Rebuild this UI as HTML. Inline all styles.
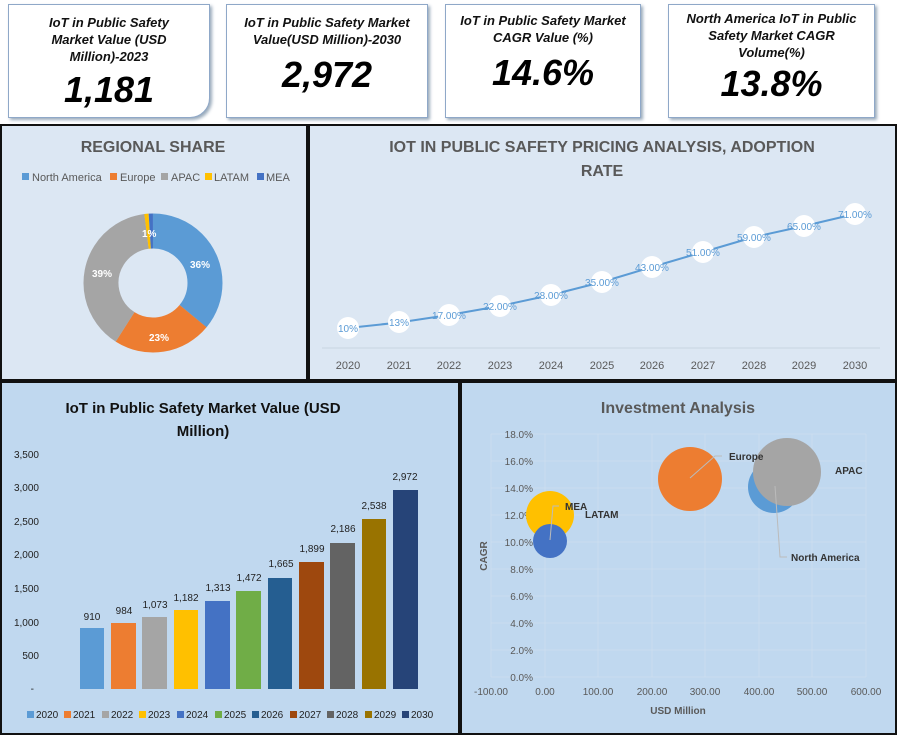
<!DOCTYPE html><html><head><meta charset="utf-8"><style>
body{margin:0;width:897px;height:735px;background:#fff;position:relative;overflow:hidden;font-family:"Liberation Sans",sans-serif}
.card{position:absolute;background:#fff;border:1px solid #8fa8c8;box-shadow:2px 2px 3px #9ab;text-align:center;font-style:italic;font-weight:bold;font-family:"Liberation Sans Narrow","Liberation Sans",sans-serif}
.card .t{font-size:13px;line-height:17px;color:#111}
.card .v{font-size:36px;color:#000;margin-top:4px}
.p{position:absolute;background:#dce7f3;border:2px solid #111;box-sizing:border-box}
</style></head><body>
<div class="card" style="left:8px;top:4px;width:200px;height:112px;border-radius:0 0 20px 0"><div class="t" style="margin-top:9px">IoT in Public Safety<br>Market Value (USD<br>Million)-2023</div><div class="v">1,181</div></div>
<div class="card" style="left:226px;top:4px;width:200px;height:112px"><div class="t" style="margin-top:9px">IoT in Public Safety Market<br>Value(USD Million)-2030</div><div class="v" style="margin-top:6px">2,972</div></div>
<div class="card" style="left:445px;top:4px;width:194px;height:112px"><div class="t" style="margin-top:7px">IoT in Public Safety Market<br>CAGR  Value (%)</div><div class="v" style="margin-top:6px">14.6%</div></div>
<div class="card" style="left:668px;top:4px;width:205px;height:112px"><div class="t" style="margin-top:5px">North America IoT in Public<br>Safety Market CAGR<br>Volume(%)</div><div class="v" style="margin-top:2px">13.8%</div></div>

<div class="p" style="left:0;top:124px;width:308px;height:257px"></div>
<div class="p" style="left:308px;top:124px;width:589px;height:257px"></div>
<div class="p" style="left:0;top:381px;width:460px;height:354px;background:#c0d8ef"></div>
<div class="p" style="left:460px;top:381px;width:437px;height:354px;background:#c0d8ef"></div>

<svg width="897" height="735" style="position:absolute;left:0;top:0" font-family="Liberation Sans, sans-serif">
<text x="153" y="152" text-anchor="middle" font-size="16" font-weight="bold" fill="#595959">REGIONAL SHARE</text>
<g font-size="11" fill="#595959">
<rect x="22" y="173" width="7" height="7" fill="#5b9bd5"/><text x="32" y="181">North America</text>
<rect x="110" y="173" width="7" height="7" fill="#ed7d31"/><text x="120" y="181">Europe</text>
<rect x="161" y="173" width="7" height="7" fill="#a5a5a5"/><text x="171" y="181">APAC</text>
<rect x="205" y="173" width="7" height="7" fill="#ffc000"/><text x="214" y="181">LATAM</text>
<rect x="257" y="173" width="7" height="7" fill="#4472c4"/><text x="266" y="181">MEA</text></g>
<g transform="translate(153,283)" stroke-width="35" fill="none">
<circle r="52" stroke="#5b9bd5" stroke-dasharray="117.6 400" transform="rotate(-90)"/>
<circle r="52" stroke="#ed7d31" stroke-dasharray="75.1 400" transform="rotate(39.6)"/>
<circle r="52" stroke="#a5a5a5" stroke-dasharray="127.4 400" transform="rotate(122.4)"/>
<circle r="52" stroke="#ffc000" stroke-dasharray="3.3 400" transform="rotate(262.8)"/>
<circle r="52" stroke="#4472c4" stroke-dasharray="3.3 400" transform="rotate(266.4)"/>
</g>
<g font-size="10" fill="#fff" font-weight="bold"><text x="190" y="268">36%</text><text x="149" y="341">23%</text><text x="92" y="277">39%</text><text x="142" y="237">1%</text></g>

<text x="602" y="152" text-anchor="middle" font-size="16" font-weight="bold" fill="#595959">IOT IN PUBLIC SAFETY PRICING ANALYSIS, ADOPTION</text>
<text x="602" y="176" text-anchor="middle" font-size="16" font-weight="bold" fill="#595959">RATE</text>
<line x1="322" y1="348" x2="880" y2="348" stroke="#c8d4e0"/>
<polyline fill="none" stroke="#5b9bd5" stroke-width="2" points="348,328 399,322.5 449,315 500,306 551,295 602,282 652,267 703,252 754,237 804,226 855,214"/>
<g font-size="10" fill="#5b9bd5" text-anchor="middle">
<g fill="#fff"><circle cx="348" cy="328" r="11"/><circle cx="399" cy="322" r="11"/><circle cx="449" cy="315" r="11"/><circle cx="500" cy="306" r="11"/><circle cx="551" cy="295" r="11"/><circle cx="602" cy="282" r="11"/><circle cx="652" cy="267" r="11"/><circle cx="703" cy="252" r="11"/><circle cx="754" cy="237" r="11"/><circle cx="804" cy="226" r="11"/><circle cx="855" cy="214" r="11"/></g>
<text x="348" y="332">10%</text><text x="399" y="326">13%</text><text x="449" y="319">17.00%</text><text x="500" y="310">22.00%</text><text x="551" y="299">28.00%</text><text x="602" y="286">35.00%</text><text x="652" y="271">43.00%</text><text x="703" y="256">51.00%</text><text x="754" y="241">59.00%</text><text x="804" y="230">65.00%</text><text x="855" y="218">71.00%</text></g>
<g font-size="11" fill="#595959" text-anchor="middle"><text x="348" y="369">2020</text><text x="399" y="369">2021</text><text x="449" y="369">2022</text><text x="500" y="369">2023</text><text x="551" y="369">2024</text><text x="602" y="369">2025</text><text x="652" y="369">2026</text><text x="703" y="369">2027</text><text x="754" y="369">2028</text><text x="804" y="369">2029</text><text x="855" y="369">2030</text></g>

<text x="203" y="413" text-anchor="middle" font-size="15" font-weight="bold" fill="#111">IoT in Public Safety Market Value (USD</text>
<text x="203" y="436" text-anchor="middle" font-size="15" font-weight="bold" fill="#111">Million)</text>
<g font-size="10" fill="#222" text-anchor="end"><text x="39" y="458">3,500</text><text x="39" y="491">3,000</text><text x="39" y="525">2,500</text><text x="39" y="558">2,000</text><text x="39" y="592">1,500</text><text x="39" y="626">1,000</text><text x="39" y="659">500</text><text x="34" y="692">-</text></g>
<g>
<rect x="80" y="628" width="24" height="61" fill="#5b9bd5"/><rect x="111" y="623" width="25" height="66" fill="#ed7d31"/><rect x="142" y="617" width="25" height="72" fill="#a5a5a5"/><rect x="174" y="610" width="24" height="79" fill="#ffc000"/><rect x="205" y="601" width="25" height="88" fill="#4472c4"/><rect x="236" y="591" width="25" height="98" fill="#70ad47"/><rect x="268" y="578" width="24" height="111" fill="#255e91"/><rect x="299" y="562" width="25" height="127" fill="#9e480e"/><rect x="330" y="543" width="25" height="146" fill="#636363"/><rect x="362" y="519" width="24" height="170" fill="#997300"/><rect x="393" y="490" width="25" height="199" fill="#264478"/></g>
<g font-size="10" fill="#222" text-anchor="middle"><text x="92" y="620">910</text><text x="124" y="614">984</text><text x="155" y="608">1,073</text><text x="186" y="601">1,182</text><text x="218" y="591">1,313</text><text x="249" y="581">1,472</text><text x="281" y="567">1,665</text><text x="312" y="552">1,899</text><text x="343" y="532">2,186</text><text x="374" y="509">2,538</text><text x="405" y="480">2,972</text></g>
<g font-size="10" fill="#222">
<rect x="27" y="711" width="7" height="7" fill="#5b9bd5"/><text x="36" y="718">2020</text>
<rect x="64" y="711" width="7" height="7" fill="#ed7d31"/><text x="73" y="718">2021</text>
<rect x="102" y="711" width="7" height="7" fill="#a5a5a5"/><text x="111" y="718">2022</text>
<rect x="139" y="711" width="7" height="7" fill="#ffc000"/><text x="148" y="718">2023</text>
<rect x="177" y="711" width="7" height="7" fill="#4472c4"/><text x="186" y="718">2024</text>
<rect x="215" y="711" width="7" height="7" fill="#70ad47"/><text x="224" y="718">2025</text>
<rect x="252" y="711" width="7" height="7" fill="#255e91"/><text x="261" y="718">2026</text>
<rect x="290" y="711" width="7" height="7" fill="#9e480e"/><text x="299" y="718">2027</text>
<rect x="327" y="711" width="7" height="7" fill="#636363"/><text x="336" y="718">2028</text>
<rect x="365" y="711" width="7" height="7" fill="#997300"/><text x="374" y="718">2029</text>
<rect x="402" y="711" width="7" height="7" fill="#264478"/><text x="411" y="718">2030</text></g>

<text x="678" y="413" text-anchor="middle" font-size="16" font-weight="bold" fill="#595959">Investment Analysis</text>
<g stroke="#cfe0f0" stroke-width="1" opacity="0.7">
<line x1="491" y1="434" x2="866" y2="434"/><line x1="491" y1="461" x2="866" y2="461"/><line x1="491" y1="488" x2="866" y2="488"/><line x1="491" y1="515" x2="866" y2="515"/><line x1="491" y1="542" x2="866" y2="542"/><line x1="491" y1="569" x2="866" y2="569"/><line x1="491" y1="596" x2="866" y2="596"/><line x1="491" y1="623" x2="866" y2="623"/><line x1="491" y1="650" x2="866" y2="650"/><line x1="491" y1="677" x2="866" y2="677"/>
<line x1="491" y1="434" x2="491" y2="677"/><line x1="545" y1="434" x2="545" y2="677"/><line x1="598" y1="434" x2="598" y2="677"/><line x1="652" y1="434" x2="652" y2="677"/><line x1="705" y1="434" x2="705" y2="677"/><line x1="759" y1="434" x2="759" y2="677"/><line x1="812" y1="434" x2="812" y2="677"/><line x1="866" y1="434" x2="866" y2="677"/></g>
<g font-size="10" fill="#595959" text-anchor="end"><text x="533" y="438">18.0%</text><text x="533" y="465">16.0%</text><text x="533" y="492">14.0%</text><text x="533" y="519">12.0%</text><text x="533" y="546">10.0%</text><text x="533" y="573">8.0%</text><text x="533" y="600">6.0%</text><text x="533" y="627">4.0%</text><text x="533" y="654">2.0%</text><text x="533" y="681">0.0%</text></g>
<g font-size="10" fill="#595959" text-anchor="middle"><text x="491" y="695">-100.00</text><text x="545" y="695">0.00</text><text x="598" y="695">100.00</text><text x="652" y="695">200.00</text><text x="705" y="695">300.00</text><text x="759" y="695">400.00</text><text x="812" y="695">500.00</text><text x="866" y="695">600.00</text></g>
<text x="678" y="714" text-anchor="middle" font-size="10" font-weight="bold" fill="#595959">USD Million</text>
<text transform="translate(487,556) rotate(-90)" text-anchor="middle" font-size="10" font-weight="bold" fill="#595959">CAGR</text>
<circle cx="550" cy="515" r="24" fill="#ffc000"/>
<circle cx="550" cy="541" r="17" fill="#4472c4"/>
<circle cx="690" cy="479" r="32" fill="#ed7d31"/>
<circle cx="774" cy="487" r="26" fill="#5b9bd5"/>
<circle cx="787" cy="472" r="34" fill="#a5a5a5"/>
<g stroke="#bbb" fill="none"><polyline points="550,540 553,506 559,506"/><polyline points="690,478 715,456 722,456"/><polyline points="775,486 780,557 787,557"/></g>
<g font-size="10" font-weight="bold" fill="#333"><text x="565" y="510">MEA</text><text x="585" y="518">LATAM</text><text x="729" y="460">Europe</text><text x="835" y="474">APAC</text><text x="791" y="561">North America</text></g>
</svg>
</body></html>
